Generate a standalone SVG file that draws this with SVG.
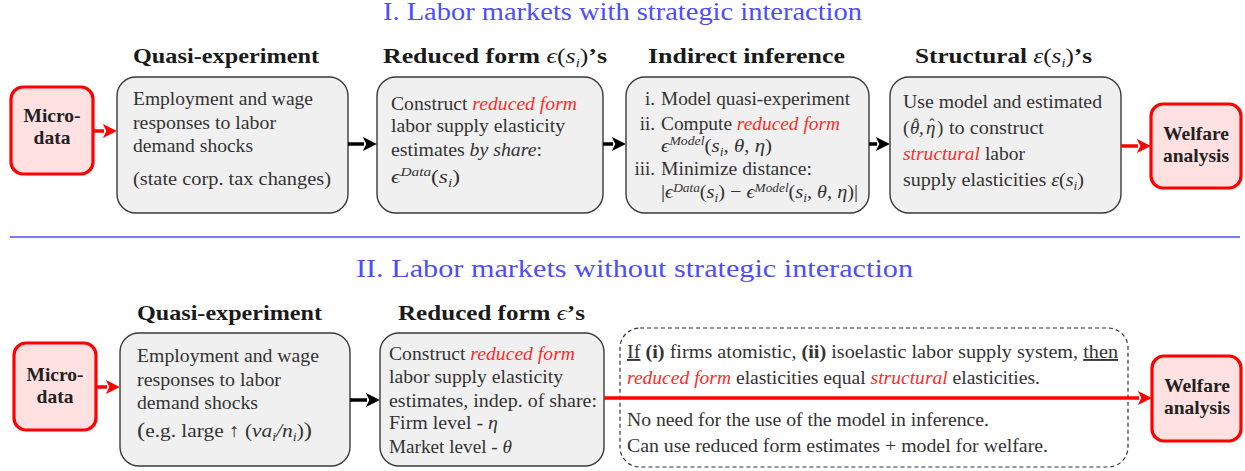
<svg xmlns="http://www.w3.org/2000/svg" width="1245" height="471" viewBox="0 0 1245 471">
<style>
text{font-family:"Liberation Serif","DejaVu Serif",serif;}
.t{font-size:25px;fill:#4d4dff;}
.h{font-size:22px;font-weight:bold;fill:#1a1a1a;}
.b{font-size:19px;fill:#333;}
.bb{font-size:19.5px;font-weight:bold;fill:#222;text-anchor:middle;}
.hat{font-size:16px;fill:#333;text-anchor:middle;}
.r{fill:#ff2b2b;font-style:italic;}
.i{font-style:italic;}
.n{font-weight:normal;}
.sup{font-size:12.5px;font-style:italic;}
.box{fill:#f0f0f0;stroke:#3a3a3a;stroke-width:1.4;}
.red{fill:#ffe1e1;stroke:#ff0000;stroke-width:3.2;}
.dash{fill:none;stroke:#333;stroke-width:1.2;stroke-dasharray:4 3;}
.ab{stroke:#000;stroke-width:3.5;fill:none;}
.ar{stroke:#ff0000;stroke-width:3.5;fill:none;}
</style>
<defs>
<marker id="hb" viewBox="0 0 12 12" markerUnits="userSpaceOnUse" markerWidth="14" markerHeight="14" refX="1" refY="6" orient="auto"><path d="M0,0 L12,6 L0,12 L3,6 z" fill="#000"/></marker>
<marker id="hr" viewBox="0 0 12 12" markerUnits="userSpaceOnUse" markerWidth="14" markerHeight="14" refX="1" refY="6" orient="auto"><path d="M0,0 L12,6 L0,12 L3,6 z" fill="#ff0000"/></marker>
</defs>

<g id="titles">
<text class="t" x="383" y="20" textLength="479" lengthAdjust="spacingAndGlyphs">I. Labor markets with strategic interaction</text>
<line x1="10" y1="237" x2="1240" y2="237" stroke="#4d4dff" stroke-width="1.3"/>
<text class="t" x="356" y="277" textLength="557" lengthAdjust="spacingAndGlyphs">II. Labor markets without strategic interaction</text>
</g>

<g id="headers">
<text class="h" x="133" y="63" textLength="186" lengthAdjust="spacingAndGlyphs">Quasi-experiment</text>
<text class="h" x="383" y="63" textLength="224" lengthAdjust="spacingAndGlyphs">Reduced form <tspan class="n i">ϵ</tspan><tspan class="n">(</tspan><tspan class="n i">s</tspan><tspan class="n sup" dy="4">i</tspan><tspan class="n" dy="-4">)</tspan>’s</text>
<text class="h" x="648" y="63" textLength="197" lengthAdjust="spacingAndGlyphs">Indirect inference</text>
<text class="h" x="915" y="63" textLength="177" lengthAdjust="spacingAndGlyphs">Structural <tspan class="n i">ε</tspan><tspan class="n">(</tspan><tspan class="n i">s</tspan><tspan class="n sup" dy="4">i</tspan><tspan class="n" dy="-4">)</tspan>’s</text>
<text class="h" x="137" y="320" textLength="185" lengthAdjust="spacingAndGlyphs">Quasi-experiment</text>
<text class="h" x="398" y="320" textLength="187" lengthAdjust="spacingAndGlyphs">Reduced form <tspan class="n i">ϵ</tspan>’s</text>
</g>

<g id="micro1">
<rect class="red" x="11" y="87" width="82" height="87" rx="12"/>
<text class="bb" x="52" y="122">Micro-</text>
<text class="bb" x="52" y="144">data</text>
</g>

<g id="quasi1">
<rect class="box" x="117" y="77" width="231" height="136" rx="19"/>
<text class="b" x="133" y="105" textLength="180" lengthAdjust="spacingAndGlyphs">Employment and wage</text>
<text class="b" x="133" y="129" textLength="143" lengthAdjust="spacingAndGlyphs">responses to labor</text>
<text class="b" x="133" y="152" textLength="120" lengthAdjust="spacingAndGlyphs">demand shocks</text>
<text class="b" x="133" y="185" textLength="198" lengthAdjust="spacingAndGlyphs">(state corp.  tax changes)</text>
</g>

<g id="reduced1">
<rect class="box" x="377" y="77" width="226" height="136" rx="19"/>
<text class="b" x="391" y="110" textLength="186" lengthAdjust="spacingAndGlyphs">Construct <tspan class="r">reduced form</tspan></text>
<text class="b" x="391" y="132" textLength="174" lengthAdjust="spacingAndGlyphs">labor supply elasticity</text>
<text class="b" x="391" y="156" textLength="151" lengthAdjust="spacingAndGlyphs">estimates <tspan class="i">by share</tspan>:</text>
<text class="b" x="391" y="183" textLength="69" lengthAdjust="spacingAndGlyphs"><tspan class="i">ϵ</tspan><tspan class="sup" dy="-7">Data</tspan><tspan dy="7">(</tspan><tspan class="i">s</tspan><tspan class="sup" dy="4">i</tspan><tspan dy="-4">)</tspan></text>
</g>

<g id="indirect1">
<rect class="box" x="626" y="77" width="243" height="136" rx="19"/>
<text class="b" x="655" y="105" text-anchor="end">i.</text>
<text class="b" x="661" y="105" textLength="189" lengthAdjust="spacingAndGlyphs">Model quasi-experiment</text>
<text class="b" x="655" y="130" text-anchor="end">ii.</text>
<text class="b" x="661" y="130" textLength="179" lengthAdjust="spacingAndGlyphs">Compute <tspan class="r">reduced form</tspan></text>
<text class="b" x="661" y="152" textLength="111" lengthAdjust="spacingAndGlyphs"><tspan class="i">ϵ</tspan><tspan class="sup" dy="-7">Model</tspan><tspan dy="7">(</tspan><tspan class="i">s</tspan><tspan class="sup" dy="4">i</tspan><tspan dy="-4">, </tspan><tspan class="i">θ</tspan>, <tspan class="i">η</tspan>)</text>
<text class="b" x="655" y="175" text-anchor="end">iii.</text>
<text class="b" x="661" y="175" textLength="151" lengthAdjust="spacingAndGlyphs">Minimize distance:</text>
<text class="b" x="661" y="198" textLength="197" lengthAdjust="spacingAndGlyphs">|<tspan class="i">ϵ</tspan><tspan class="sup" dy="-6">Data</tspan><tspan dy="6">(</tspan><tspan class="i">s</tspan><tspan class="sup" dy="4">i</tspan><tspan dy="-4">) − </tspan><tspan class="i">ϵ</tspan><tspan class="sup" dy="-6">Model</tspan><tspan dy="6">(</tspan><tspan class="i">s</tspan><tspan class="sup" dy="4">i</tspan><tspan dy="-4">, </tspan><tspan class="i">θ</tspan>, <tspan class="i">η</tspan>)|</text>
</g>

<g id="structural1">
<rect class="box" x="890" y="77" width="231" height="136" rx="19"/>
<text class="b" x="903" y="108" textLength="199" lengthAdjust="spacingAndGlyphs">Use model and estimated</text>
<text class="b" x="903" y="134">(</text>
<text class="b i" x="910" y="134">θ</text>
<text class="hat" x="916" y="130">ˆ</text>
<text class="b" x="919" y="134">,</text>
<text class="b i" x="926" y="134">η</text>
<text class="hat" x="932" y="130">ˆ</text>
<text class="b" x="937" y="134">)</text>
<text class="b" x="949" y="134" textLength="95" lengthAdjust="spacingAndGlyphs">to construct</text>
<text class="b" x="903" y="160" textLength="122" lengthAdjust="spacingAndGlyphs"><tspan class="r">structural</tspan> labor</text>
<text class="b" x="903" y="186" textLength="181" lengthAdjust="spacingAndGlyphs">supply elasticities <tspan class="i">ε</tspan>(<tspan class="i">s</tspan><tspan class="sup" dy="4">i</tspan><tspan dy="-4">)</tspan></text>
</g>

<g id="welfare1">
<rect class="red" x="1151" y="104" width="90" height="84" rx="12"/>
<text class="bb" x="1196" y="140">Welfare</text>
<text class="bb" x="1196" y="162">analysis</text>
</g>

<g id="micro2">
<rect class="red" x="14" y="343" width="82" height="87" rx="12"/>
<text class="bb" x="55" y="381">Micro-</text>
<text class="bb" x="55" y="403">data</text>
</g>

<g id="quasi2">
<rect class="box" x="120" y="333" width="230" height="133" rx="19"/>
<text class="b" x="137" y="362" textLength="182" lengthAdjust="spacingAndGlyphs">Employment and wage</text>
<text class="b" x="137" y="386" textLength="144" lengthAdjust="spacingAndGlyphs">responses to labor</text>
<text class="b" x="137" y="409" textLength="121" lengthAdjust="spacingAndGlyphs">demand shocks</text>
<text class="b" x="137" y="437" textLength="175" lengthAdjust="spacingAndGlyphs"><tspan font-size="22px">(</tspan>e.g.  large ↑ (<tspan class="i">va</tspan><tspan class="sup" dy="4">i</tspan><tspan dy="-4" class="i">/n</tspan><tspan class="sup" dy="4">i</tspan><tspan dy="-4">)</tspan><tspan font-size="22px">)</tspan></text>
</g>

<g id="reduced2">
<rect class="box" x="380" y="333" width="224" height="133" rx="19"/>
<text class="b" x="389" y="360" textLength="186" lengthAdjust="spacingAndGlyphs">Construct <tspan class="r">reduced form</tspan></text>
<text class="b" x="389" y="383" textLength="174" lengthAdjust="spacingAndGlyphs">labor supply elasticity</text>
<text class="b" x="389" y="407" textLength="208" lengthAdjust="spacingAndGlyphs">estimates, indep.  of share:</text>
<text class="b" x="389" y="429" textLength="109" lengthAdjust="spacingAndGlyphs">Firm level - <tspan class="i">η</tspan></text>
<text class="b" x="389" y="453" textLength="123" lengthAdjust="spacingAndGlyphs">Market level - <tspan class="i">θ</tspan></text>
</g>

<g id="note2">
<rect class="dash" x="620" y="328" width="508" height="139" rx="20"/>
<text class="b" x="627" y="358" textLength="491" lengthAdjust="spacingAndGlyphs"><tspan text-decoration="underline">If</tspan> <tspan font-weight="bold">(i)</tspan> firms atomistic, <tspan font-weight="bold">(ii)</tspan> isoelastic labor supply system, <tspan text-decoration="underline">then</tspan></text>
<text class="b" x="627" y="384" textLength="413" lengthAdjust="spacingAndGlyphs"><tspan class="r">reduced form</tspan> elasticities equal <tspan class="r">structural</tspan> elasticities.</text>
<text class="b" x="627" y="426" textLength="362" lengthAdjust="spacingAndGlyphs">No need for the use of the model in inference.</text>
<text class="b" x="627" y="452" textLength="421" lengthAdjust="spacingAndGlyphs">Can use reduced form estimates + model for welfare.</text>
</g>

<g id="welfare2">
<rect class="red" x="1152" y="356" width="89" height="85" rx="12"/>
<text class="bb" x="1197" y="392">Welfare</text>
<text class="bb" x="1197" y="414">analysis</text>
</g>

<g id="connectors">
<line class="ar" x1="93" y1="131" x2="104" y2="131" marker-end="url(#hr)"/>
<line class="ab" x1="348" y1="144" x2="364" y2="144" marker-end="url(#hb)"/>
<line class="ab" x1="603" y1="144" x2="613" y2="144" marker-end="url(#hb)"/>
<line class="ab" x1="869" y1="144" x2="877" y2="144" marker-end="url(#hb)"/>
<line class="ar" x1="1121" y1="146" x2="1138" y2="146" marker-end="url(#hr)"/>
<line class="ar" x1="96" y1="387" x2="107" y2="387" marker-end="url(#hr)"/>
<line class="ab" x1="350" y1="400" x2="367" y2="400" marker-end="url(#hb)"/>
<line class="ar" x1="604" y1="398" x2="1139" y2="398" marker-end="url(#hr)"/>
</g>
</svg>
